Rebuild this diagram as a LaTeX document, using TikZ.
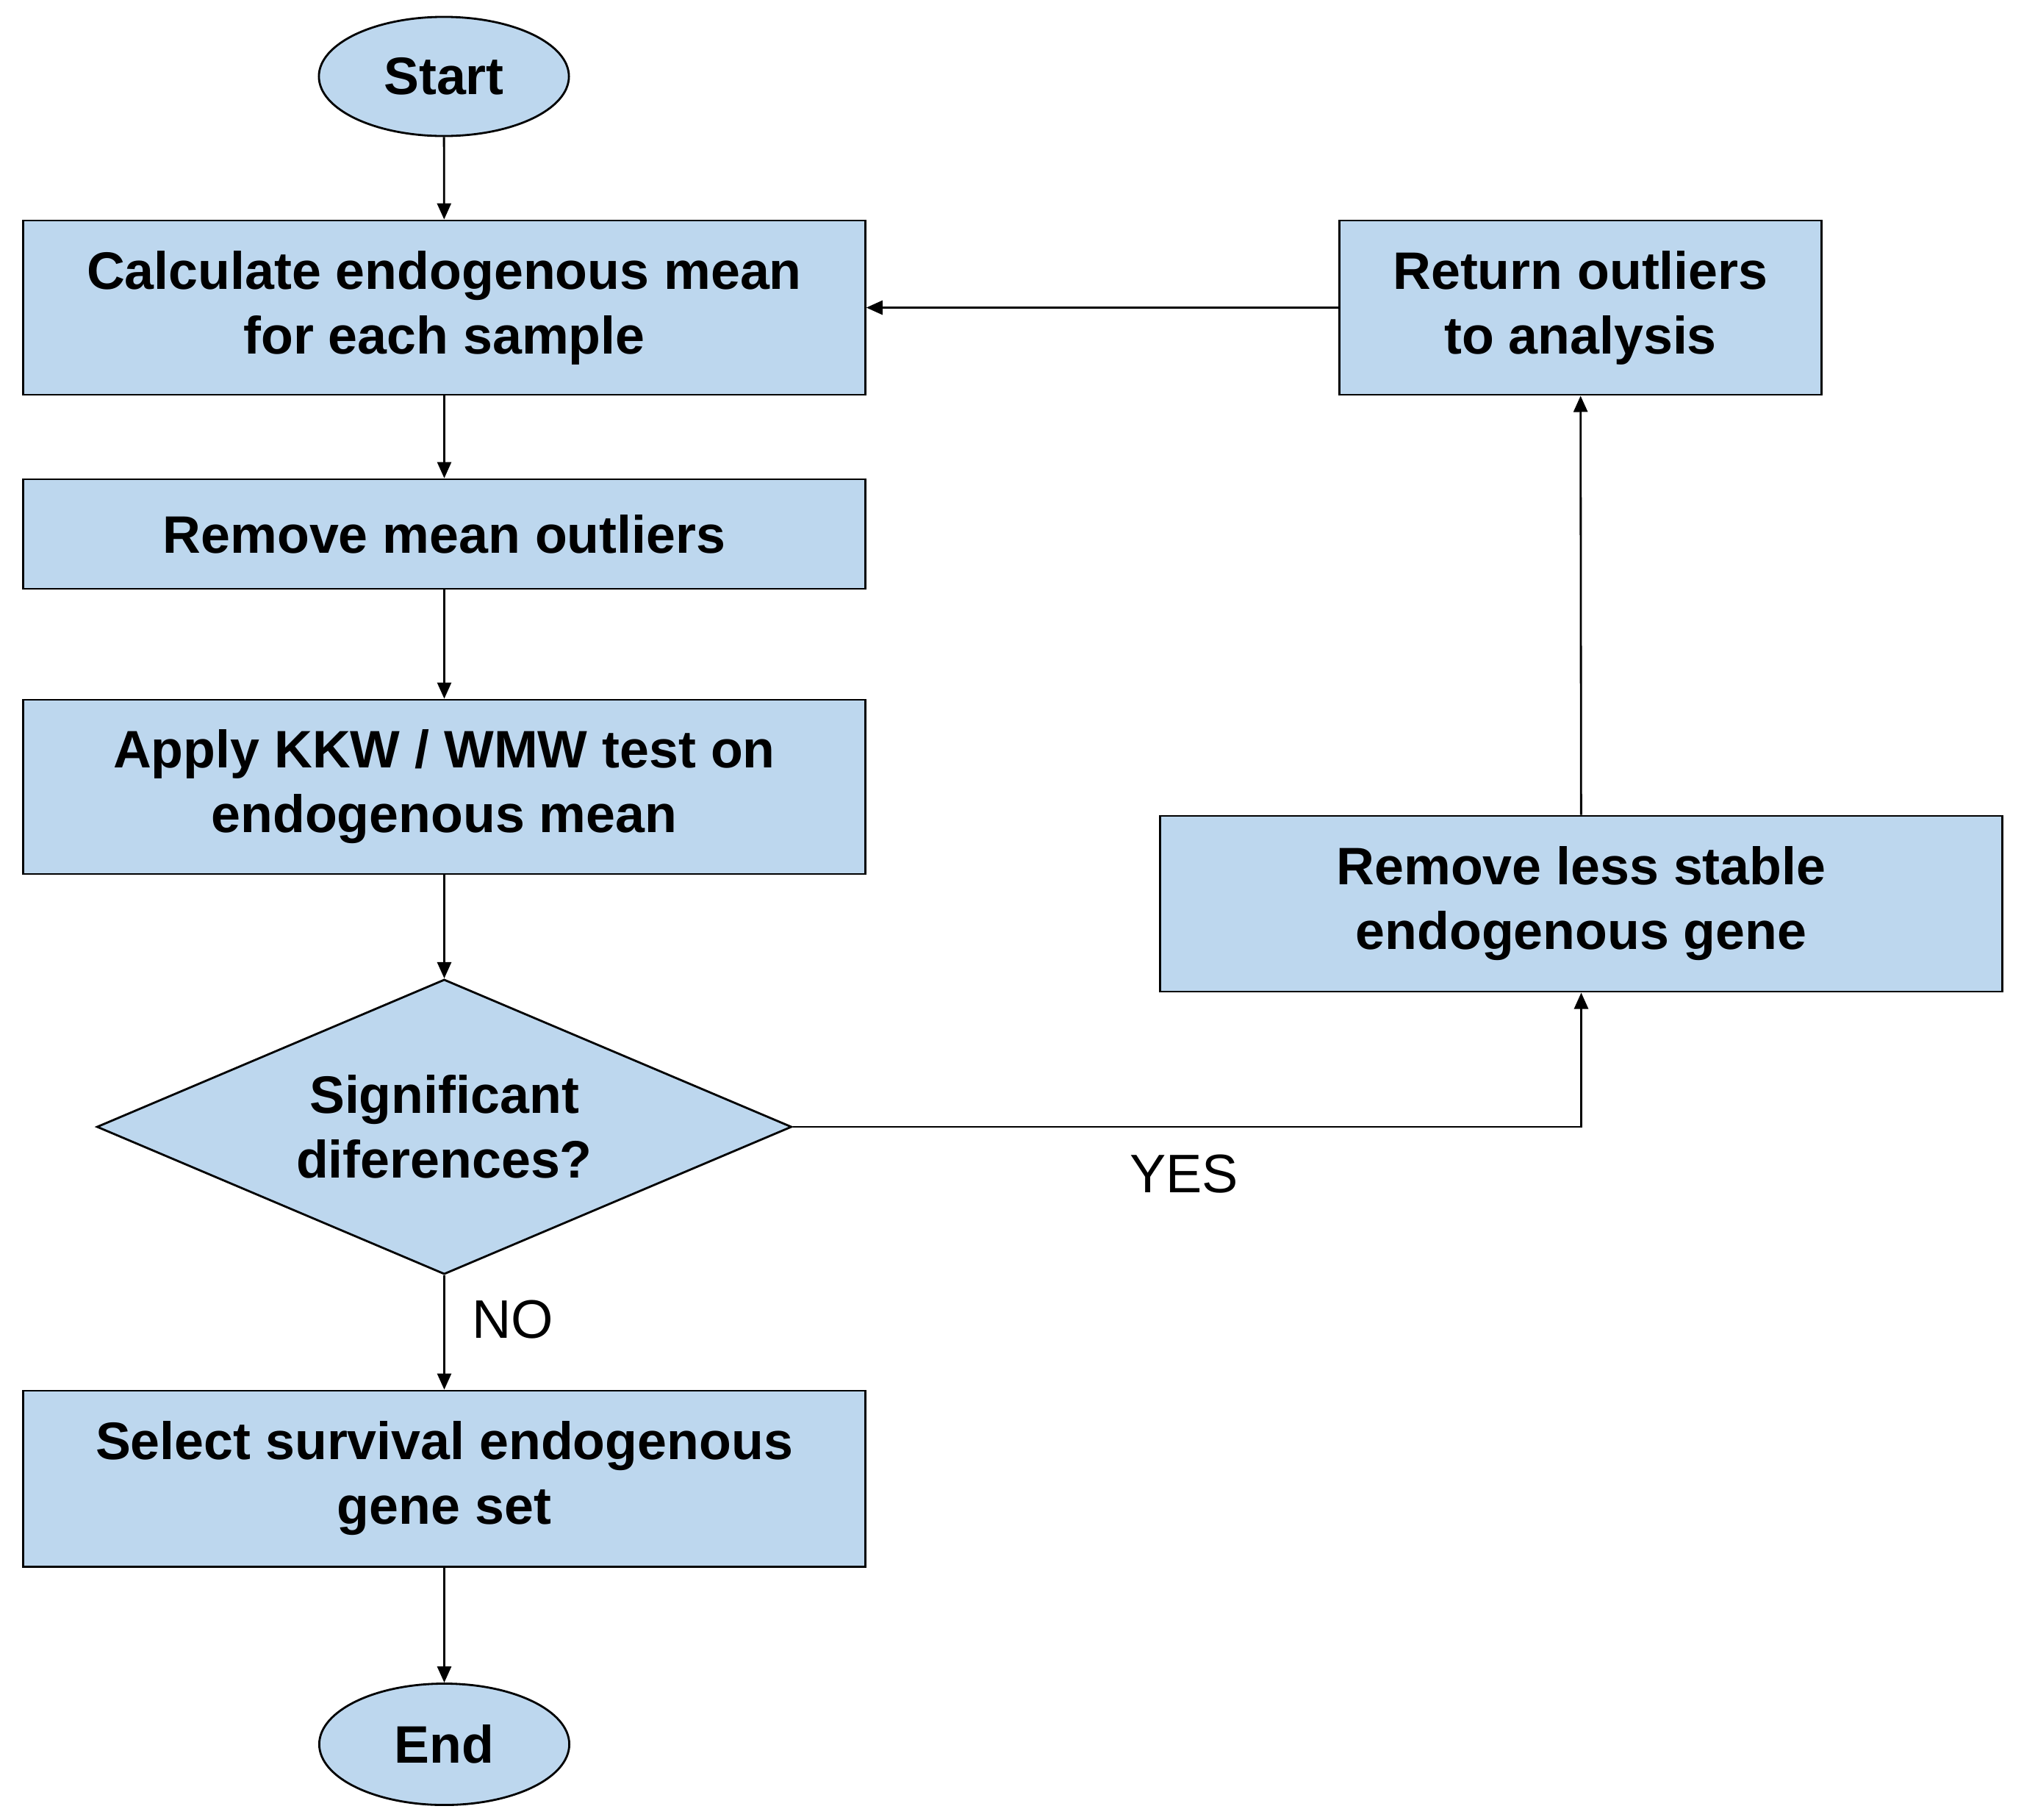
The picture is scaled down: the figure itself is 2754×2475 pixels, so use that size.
\documentclass[tikz,border=0pt]{standalone}
\usepackage{fontspec}
\setmainfont{Liberation Sans}
\usetikzlibrary{shapes.geometric,arrows.meta}
\definecolor{boxblue}{HTML}{BDD7EE}
\begin{document}
\begin{tikzpicture}[x=0.01cm,y=-0.01cm,
  every node/.style={font=\fontsize{20.4}{25}\selectfont\bfseries, align=center, inner sep=0pt},
  procbox/.style={draw=black, line width=0.8pt, fill=boxblue, rectangle},
  term/.style={draw=black, line width=0.8pt, fill=boxblue, ellipse, minimum width=3.40cm, minimum height=1.62cm},
  decision/.style={draw=black, line width=0.8pt, fill=boxblue, diamond, aspect=2.36, minimum width=9.45cm, minimum height=4.01cm},
  lbl/.style={font=\fontsize{21}{25}\selectfont\mdseries},
  conn/.style={line width=0.8pt, -{Triangle[length=0.22cm,width=0.19cm]}}]
\useasboundingbox (0,0) rectangle (2754,2475);
\fill[white] (0,0) rectangle (2754,2475);

\node[term] (start) at (604,104) {Start};
\node[procbox, minimum width=11.45cm, minimum height=2.37cm] (calc) at (604.5,418.5) {Calculate endogenous mean\\for each sample};
\node[procbox, minimum width=11.45cm, minimum height=1.49cm] (remove) at (604.5,726.5) {Remove mean outliers};
\node[procbox, minimum width=11.45cm, minimum height=2.37cm] (apply) at (604.5,1070.5) {Apply KKW / WMW test on\\endogenous mean};
\node[decision] (dec) at (604.5,1533) {Significant\\diferences?};
\node[procbox, minimum width=11.45cm, minimum height=2.39cm] (select) at (604.5,2011.5) {Select survival endogenous\\gene set};
\node[term, minimum height=1.65cm] (end) at (604.5,2373) {End};
\node[procbox, minimum width=6.55cm, minimum height=2.37cm] (ret) at (2150.5,418.5) {Return outliers\\to analysis};
\node[procbox, minimum width=11.45cm, minimum height=2.39cm] (less) at (2151.5,1229.5) {Remove less stable\\endogenous gene};

\node[lbl] (yes) at (1611,1597) {YES};
\node[lbl] (no) at (698,1795) {NO};

\draw[conn] (start) -- (calc);
\draw[conn] (calc) -- (remove);
\draw[conn] (remove) -- (apply);
\draw[conn] (apply) -- (dec);
\draw[conn] (dec) -- (select);
\draw[conn] (select) -- (end);
\draw[conn] (dec.east) -| (less.south);
\draw[conn] (less) -- (ret);
\draw[conn] (ret) -- (calc);
\end{tikzpicture}
\end{document}
